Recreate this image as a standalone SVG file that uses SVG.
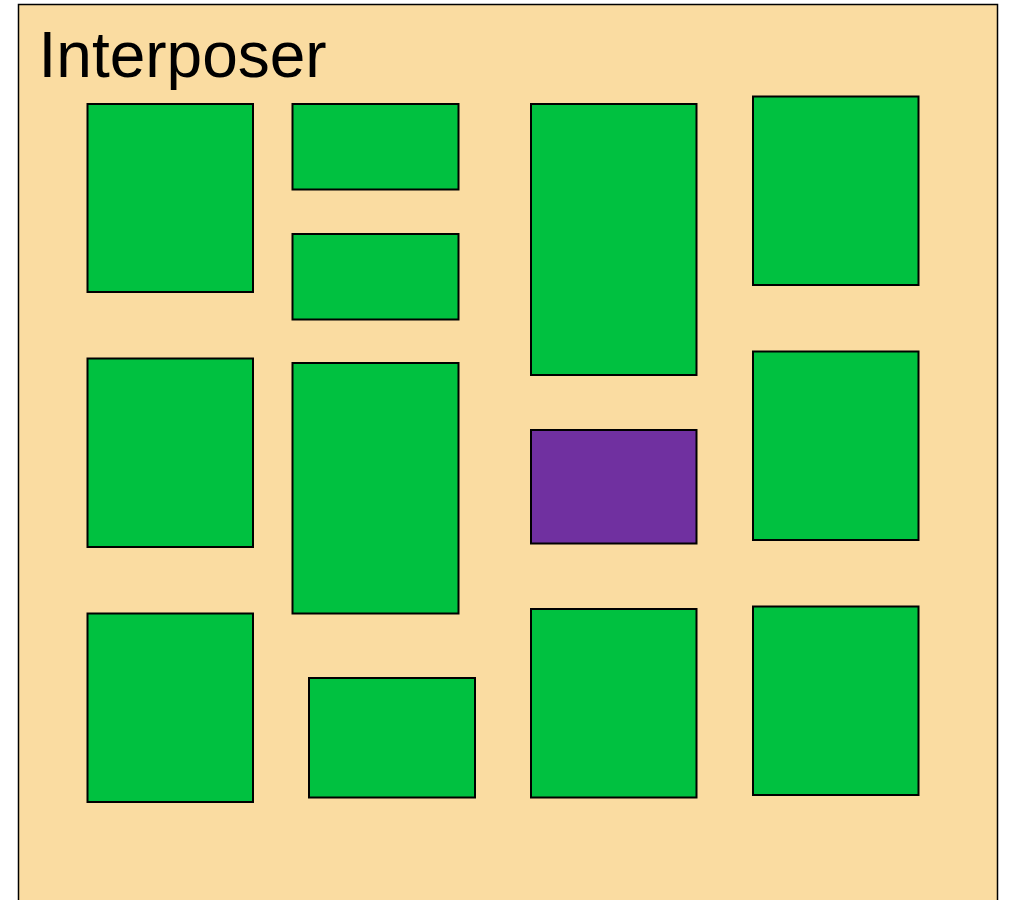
<svg xmlns="http://www.w3.org/2000/svg" width="1010" height="900" viewBox="0 0 1010 900">
<style>
.chip{fill:#00C140;stroke:#000;stroke-width:2}
.io{fill:#7030A0;stroke:#000;stroke-width:2}
.lbl{font-family:"Liberation Sans",Arial,sans-serif;font-size:64px;fill:#000}
</style>
<rect width="1010" height="900" fill="#fff"/>
<g id="interposer">
<rect x="18.5" y="4.5" width="979" height="910" fill="#FADCA1" stroke="#000" stroke-width="1.5"/>
<text class="lbl" x="38.5" y="77">Interposer</text>
</g>
<g id="chip1"><rect class="chip" x="87.5" y="104" width="165.5" height="188"/></g>
<g id="chip2"><rect class="chip" x="292.5" y="104" width="166" height="85.5"/></g>
<g id="chip3"><rect class="chip" x="292.5" y="234" width="166" height="85.5"/></g>
<g id="chip4"><rect class="chip" x="531" y="104" width="165.5" height="271"/></g>
<g id="chip5"><rect class="chip" x="753" y="96.5" width="165.5" height="188.5"/></g>
<g id="chip6"><rect class="chip" x="87.5" y="358.5" width="165.5" height="188.5"/></g>
<g id="chip7"><rect class="chip" x="292.5" y="363" width="166" height="250.5"/></g>
<g id="io"><rect class="io" x="531" y="430" width="165.5" height="113.5"/></g>
<g id="chip8"><rect class="chip" x="753" y="351.5" width="165.5" height="188.5"/></g>
<g id="chip9"><rect class="chip" x="87.5" y="613.5" width="165.5" height="188.5"/></g>
<g id="chip10"><rect class="chip" x="309" y="678" width="166" height="119.5"/></g>
<g id="chip11"><rect class="chip" x="531" y="609" width="165.5" height="188.5"/></g>
<g id="chip12"><rect class="chip" x="753" y="606.5" width="165.5" height="188.5"/></g>
<g id="connectors"/>
</svg>
